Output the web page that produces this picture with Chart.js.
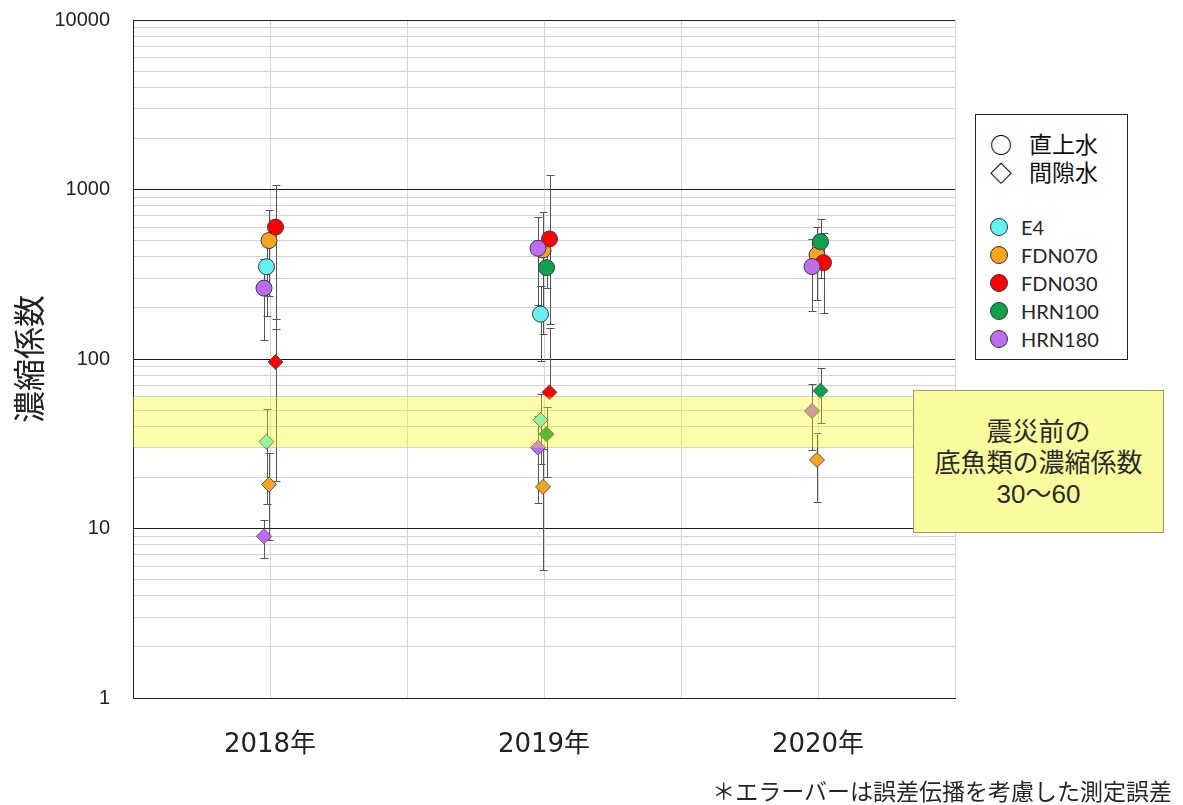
<!DOCTYPE html>
<html>
<head>
<meta charset="utf-8">
<script src="https://cdn.jsdelivr.net/npm/chart.js@4"></script>
<style>
    body { margin: 0; background: #fff; }
    #wrap { position: relative; width: 1183px; height: 805px; overflow: hidden; }
    #chart { position: absolute; left: 0; top: 0; }
    #legend {
        position: absolute; left: 975px; top: 114px; width: 153px; height: 246px;
        box-sizing: border-box; border: 1px solid #222; background: #fff;
        padding: 14px 0 0 14px; color: #262626;
    }
    #legend .row { height: 28px; line-height: 28px; display: flex; align-items: center; white-space: nowrap; }
    #legend .sym { width: 18px; text-align: center; font: bold 22px "Noto Sans CJK JP"; color: #000; }
    #legend .jp { margin-left: 21px; font: 23px "Noto Sans CJK JP"; color: #111; }
    #legend .dot { width: 18px; height: 18px; box-sizing: border-box; border-radius: 50%; border: 1px solid #333; }
    #legend .name { margin-left: 13px; font: 20px Lato, "Liberation Sans", sans-serif; }
    #note {
        position: absolute; left: 913px; top: 390px; width: 251px; height: 143px;
        box-sizing: border-box; border: 1px solid #9a9a78; background: #fafa9e;
        padding-top: 26px; text-align: center; color: #2a2a2a;
        font: 26px "Liberation Sans", "Noto Sans CJK JP", sans-serif; line-height: 31px;
    }
    #footnote {
        position: absolute; right: 11px; top: 776px; color: #262626;
        font: 23px "Noto Sans CJK JP", sans-serif; line-height: 28px; white-space: nowrap;
    }
</style>
</head>
<body>
<div id="wrap">
    <canvas id="chart" width="1183" height="805"></canvas>
    <div id="legend"></div>
    <div id="note">震災前の<br>底魚類の濃縮係数<br>30～60</div>
    <div id="footnote">＊エラーバーは誤差伝播を考慮した測定誤差</div>
</div>
<script>
const years = ['2018年', '2019年', '2020年'];
const stations = ['E4', 'FDN070', 'FDN030', 'HRN100', 'HRN180'];
const yTicks = [1, 10, 100, 1000, 10000];
const bandRange = [30, 60];

// 直上水 (circles)
const e4Upper = [350, 184, null];
const fdn070Upper = [500, 440, 411];
const fdn030Upper = [600, 511, 370];
const hrn100Upper = [null, 346, 492];
const hrn180Upper = [262, 450, 351];

// error bar ends [low, high]
const e4UpperErr = [[180, 520], [97, 271], null];
const fdn070UpperErr = [[235, 760], [140, 740], [223, 599]];
const fdn030UpperErr = [[150, 1060], [160, 1220], [186, 554]];
const hrn100UpperErr = [null, [261, 431], [299, 667]];
const hrn180UpperErr = [[130, 390], [208, 692], [193, 509]];

// 間隙水 (diamonds)
const e4Pore = [32.5, 43.7, null];
const fdn070Pore = [18.2, 17.6, 25.4];
const fdn030Pore = [96, 63.6, null];
const hrn100Pore = [null, 36, 65];
const hrn180Pore = [9, 30, 49.3];

const e4PoreErr = [[14, 51], [24, 62], null];
const fdn070PoreErr = [[8.5, 28], [5.7, 29.5], [14.4, 36.5]];
const fdn030PoreErr = [[19, 173], [null, 152], null];
const hrn100PoreErr = [null, [20, 52], [42, 89]];
const hrn180PoreErr = [[6.7, 11.3], [14.1, 46], [29, 71]];

const upperValues = [e4Upper, fdn070Upper, fdn030Upper, hrn100Upper, hrn180Upper];
const upperErrors = [e4UpperErr, fdn070UpperErr, fdn030UpperErr, hrn100UpperErr, hrn180UpperErr];
const poreValues = [e4Pore, fdn070Pore, fdn030Pore, hrn100Pore, hrn180Pore];
const poreErrors = [e4PoreErr, fdn070PoreErr, fdn030PoreErr, hrn100PoreErr, hrn180PoreErr];

const colors = ['#66f0f0', '#f7a51e', '#ff0000', '#0da24e', '#bf6df0'];
// small sideways nudge per station (in px) so the markers don't sit exactly on top of each other
const nudgePx = [-3.5, -1, 5.5, 2.5, -6];
// FDN030 is drawn last, on top of the others
const drawRank = [4, 3, 1, 2, 0];
const unitPx = 137;

function buildPoints(values, errors, s) {
    const pts = [];
    values.forEach((v, i) => {
        if (v == null) return;
        const e = errors[i] || [null, null];
        pts.push({ x: 2 * i + 1 + nudgePx[s] / unitPx, y: v, lo: e[0], hi: e[1] });
    });
    return pts;
}

const datasets = [];
stations.forEach((name, s) => {
    const common = {
        backgroundColor: colors[s],
        borderColor: '#3a3a3a',
        borderWidth: 1,
        order: drawRank[s]
    };
    datasets.push({ ...common, label: name + ' 間隙水', data: buildPoints(poreValues[s], poreErrors[s], s), pointStyle: 'rectRot', pointRadius: 7.5, pointHoverRadius: 7.5, borderColor: '#555' });
    datasets.push({ ...common, label: name + ' 直上水', data: buildPoints(upperValues[s], upperErrors[s], s), pointStyle: 'circle', pointRadius: 8, pointHoverRadius: 8 });
});

// error bars go underneath the markers
const errorBars = {
    id: 'errorBars',
    beforeDatasetsDraw(chart) {
        const { ctx, scales: { x, y } } = chart;
        ctx.save();
        ctx.strokeStyle = '#555';
        ctx.lineWidth = 1;
        chart.data.datasets.forEach(ds => {
            ds.data.forEach(p => {
                const px = Math.round(x.getPixelForValue(p.x)) + 0.5;
                const ends = [p.lo, p.hi].filter(v => v != null).map(v => Math.round(y.getPixelForValue(v)) + 0.5);
                if (!ends.length) return;
                const mid = y.getPixelForValue(p.y);
                const top = Math.min(mid, ...ends);
                const bottom = Math.max(mid, ...ends);
                ctx.beginPath();
                ctx.moveTo(px, top);
                ctx.lineTo(px, bottom);
                ends.forEach(py => {
                    ctx.moveTo(px - 4, py);
                    ctx.lineTo(px + 4, py);
                });
                ctx.stroke();
            });
        });
        ctx.restore();
    }
};

// translucent band for the pre-earthquake range, laid over the markers
const band = {
    id: 'band',
    afterDatasetsDraw(chart) {
        const { ctx, chartArea, scales: { y } } = chart;
        const top = y.getPixelForValue(bandRange[1]);
        const bottom = y.getPixelForValue(bandRange[0]);
        ctx.save();
        ctx.fillStyle = 'rgba(245, 245, 0, 0.33)';
        ctx.fillRect(chartArea.left, top, chartArea.right - chartArea.left + 40, bottom - top);
        ctx.restore();
    }
};

const ctx = document.getElementById('chart').getContext('2d');
const chart = new Chart(ctx, {
    type: 'scatter',
    data: { datasets },
    options: {
        responsive: false,
        animation: false,
        devicePixelRatio: 1,
        layout: { padding: { left: 0, top: 20, right: 228, bottom: 0 } },
        plugins: { legend: { display: false }, tooltip: { enabled: false } },
        scales: {
            x: {
                type: 'linear',
                min: 0,
                max: 6,
                afterBuildTicks: axis => { axis.ticks = [0, 1, 2, 3, 4, 5, 6].map(v => ({ value: v })); },
                afterFit: axis => { axis.height = 107; axis.paddingLeft = 0; axis.paddingRight = 0; },
                ticks: {
                    autoSkip: false,
                    maxRotation: 0,
                    padding: 32,
                    color: '#222',
                    font: { family: '"DejaVu Sans", "Noto Sans CJK JP"', size: 26 },
                    callback: v => (v % 2 === 1 ? years[(v - 1) / 2] : '')
                },
                grid: { color: '#d6d6d6', drawTicks: false },
                border: { color: '#222' }
            },
            y: {
                type: 'logarithmic',
                min: 1,
                max: 10000,
                afterBuildTicks: axis => {
                    const t = [];
                    for (let e = 0; e < 4; e++) {
                        for (let m = 1; m < 10; m++) t.push({ value: m * Math.pow(10, e) });
                    }
                    t.push({ value: 10000 });
                    axis.ticks = t;
                },
                afterFit: axis => { axis.width = 133; axis.paddingTop = 0; axis.paddingBottom = 0; },
                ticks: {
                    autoSkip: false,
                    padding: 23,
                    color: '#222',
                    font: { family: '"Liberation Sans", sans-serif', size: 20 },
                    callback: v => (yTicks.includes(v) ? String(v) : '')
                },
                grid: {
                    drawTicks: false,
                    color: c => (yTicks.includes(c.tick.value) ? '#1e1e1e' : '#d2d2d2')
                },
                border: { color: '#222' },
                title: {
                    display: true,
                    text: '濃縮係数',
                    color: '#222',
                    padding: { top: 10, bottom: 0 },
                    font: { family: '"Noto Sans CJK JP"', size: 32 }
                }
            }
        }
    },
    plugins: [errorBars, band]
});

// legend box
const legend = document.getElementById('legend');
legend.innerHTML =
    '<div class="row"><span class="sym">○</span><span class="jp">直上水</span></div>' +
    '<div class="row"><span class="sym">◇</span><span class="jp">間隙水</span></div>' +
    '<div class="row"></div>' +
    stations.map((name, s) =>
        `<div class="row"><span class="dot" style="background:${colors[s]}"></span><span class="name">${name}</span></div>`
    ).join('');
</script>
</body>
</html>
